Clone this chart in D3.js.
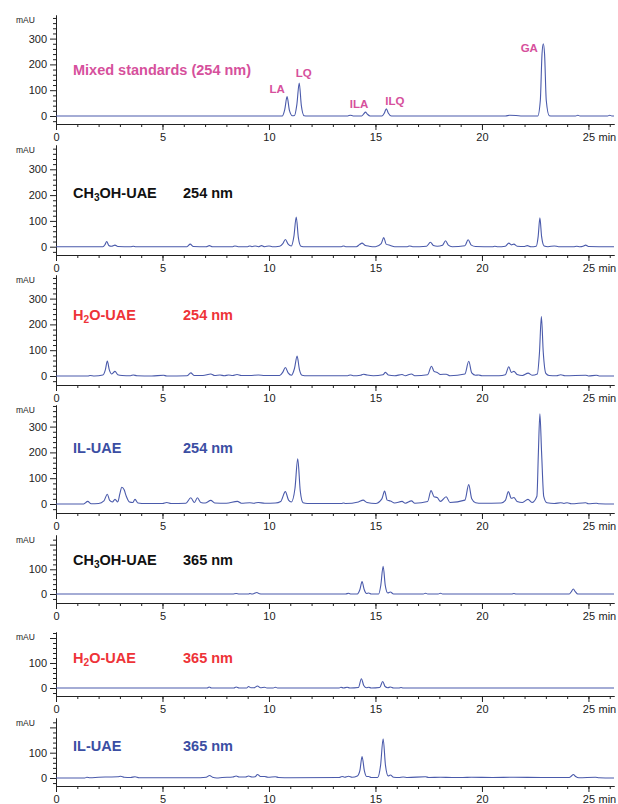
<!DOCTYPE html>
<html>
<head>
<meta charset="utf-8">
<script src="https://cdn.jsdelivr.net/npm/d3@7"></script>
<style>
body{margin:0;background:#fff;}
svg{display:block;font-family:"Liberation Sans",Arial,sans-serif;}
</style>
</head>
<body>
<svg id="chart"></svg>
<script>
// ---- data: [retention time (min), absorbance (mAU)] ----
var timeTicks = [0,5,10,15,20,25];
var timeMinorTicks = [0,1,2,3,4,5,6,7,8,9,10,11,12,13,14,15,16,17,18,19,20,21,22,23,24,25,26];
var yTicks254 = [0,100,200,300];
var yTicks365 = [0,100,200];
var yLabels365 = [0,100];

var panelNames = ["Mixed standards (254 nm)","CH_3OH-UAE","H_2O-UAE","IL-UAE","CH_3OH-UAE","H_2O-UAE","IL-UAE"];
var wavelengths = ["","254 nm","254 nm","254 nm","365 nm","365 nm","365 nm"];

var peakNames = ["LA","LQ","ILA","ILQ","GA"];
var peakTimes = [10.85,11.42,14.53,15.51,22.88];
var peakHeights = [75,128,15,28,280];

var mixStd254 = [[0,0],[10.0,0],[10.62,0],[10.74,25],[10.85,75],[10.96,22],[11.1,1],[11.2,2],[11.31,45],[11.42,128],[11.52,40],[11.65,1],[11.8,0],[13.7,0],[13.82,3],[13.95,0],[14.35,0],[14.45,8],[14.53,15],[14.62,7],[14.75,0],[15.3,0],[15.42,12],[15.51,28],[15.6,12],[15.75,0],[21.1,0],[21.3,3],[21.6,2],[21.9,0],[22.62,0],[22.74,60],[22.82,240],[22.88,280],[22.94,240],[23.02,60],[23.16,1],[23.3,0],[24.4,0],[24.5,3],[24.6,0],[25.9,0],[26.0,3],[26.1,0],[26.2,0]];

var ch3oh254 = [[0,0],[2.2,0],[2.3,8],[2.38,20],[2.48,5],[2.6,2],[2.77,6],[2.9,1],[3.5,0],[3.63,2],[3.75,0],[6.15,0],[6.3,10],[6.45,1],[7.05,0],[7.2,4],[7.35,0],[8.3,0],[8.4,3],[8.55,0],[9.0,0],[9.1,3],[9.2,0],[9.35,3],[9.5,0],[9.65,4],[9.8,0],[10.0,3],[10.15,0],[10.5,2],[10.65,12],[10.77,28],[10.9,10],[11.05,3],[11.17,40],[11.28,115],[11.38,35],[11.5,2],[11.7,0],[13.4,0],[13.5,3],[13.6,0],[14.1,0],[14.25,8],[14.37,14],[14.5,6],[14.7,2],[15.0,0],[15.27,12],[15.39,35],[15.5,10],[15.7,5],[15.9,0],[16.5,0],[16.6,3],[16.75,0],[17.4,2],[17.58,17],[17.72,5],[17.9,2],[18.15,6],[18.29,23],[18.42,6],[18.6,0],[19.2,4],[19.35,27],[19.5,6],[19.7,1],[20.5,0],[20.6,2],[20.75,0],[21.1,2],[21.26,14],[21.38,7],[21.5,10],[21.65,2],[22.0,1],[22.13,4],[22.3,0],[22.55,2],[22.64,40],[22.72,112],[22.8,40],[22.92,3],[23.1,0],[23.4,3],[23.6,0],[24.3,0],[24.45,2],[24.6,0],[24.75,2],[24.87,6],[25.0,1],[26.2,0]];

var h2o254 = [[0,0],[1.5,0],[1.6,2],[1.8,0],[2.2,4],[2.32,25],[2.41,58],[2.5,25],[2.62,8],[2.77,18],[2.9,5],[3.1,2],[3.5,1],[3.63,4],[3.8,1],[4.5,0],[5.05,3],[5.2,0],[6.15,1],[6.33,12],[6.48,2],[6.9,2],[7.27,8],[7.45,2],[7.7,4],[7.9,1],[8.1,4],[8.3,2],[8.5,6],[8.7,2],[9.1,2],[9.5,4],[9.8,2],[10.2,2],[10.5,2],[10.65,15],[10.77,33],[10.9,12],[11.05,3],[11.2,30],[11.32,77],[11.43,25],[11.55,3],[11.8,1],[13.7,1],[13.82,4],[13.95,1],[14.3,3],[14.43,7],[14.6,4],[14.9,1],[15.35,5],[15.47,14],[15.6,4],[15.9,1],[16.25,6],[16.4,1],[16.69,8],[16.85,1],[17.45,5],[17.63,38],[17.75,18],[17.9,14],[18.05,6],[18.32,7],[18.5,1],[19.2,8],[19.38,57],[19.52,12],[19.7,3],[19.84,4],[20.0,1],[20.8,1],[21.1,5],[21.26,36],[21.38,14],[21.5,18],[21.65,6],[21.9,2],[22.17,11],[22.35,3],[22.6,8],[22.7,90],[22.79,230],[22.88,90],[23.0,10],[23.15,2],[23.5,1],[23.7,5],[23.9,1],[24.87,3],[25.0,0],[25.37,3],[25.5,0],[26.2,0]];

var il254 = [[0,0],[1.3,0],[1.49,10],[1.65,1],[2.0,2],[2.25,12],[2.41,38],[2.52,14],[2.65,8],[2.77,18],[2.9,8],[3.0,40],[3.09,65],[3.2,55],[3.3,30],[3.45,8],[3.6,6],[3.71,18],[3.85,4],[4.2,2],[5.0,2],[5.2,6],[5.4,2],[6.1,3],[6.33,24],[6.5,6],[6.64,24],[6.8,6],[7.0,4],[7.27,14],[7.45,4],[8.0,3],[8.52,10],[8.7,3],[9.1,5],[9.3,3],[9.5,6],[9.8,3],[10.3,4],[10.55,10],[10.77,48],[10.92,15],[11.05,8],[11.22,60],[11.35,175],[11.47,50],[11.6,5],[11.8,2],[13.4,2],[13.5,4],[13.6,2],[14.2,8],[14.42,15],[14.6,6],[15.0,2],[15.3,20],[15.43,50],[15.55,15],[15.7,12],[15.9,4],[16.25,10],[16.4,3],[16.69,12],[16.85,3],[17.45,10],[17.61,52],[17.75,28],[17.9,25],[18.05,10],[18.32,28],[18.5,6],[19.2,15],[19.38,75],[19.52,20],[19.7,5],[20.0,3],[20.9,4],[21.1,14],[21.24,48],[21.38,22],[21.5,25],[21.65,10],[21.9,6],[22.16,18],[22.35,6],[22.58,30],[22.65,200],[22.72,350],[22.8,200],[22.9,30],[23.05,5],[23.4,2],[23.7,5],[23.85,2],[24.0,5],[24.2,1],[24.87,5],[25.0,1],[25.37,3],[25.5,1],[26.2,0]];

var ch3oh365 = [[0,0],[8.3,0],[8.46,2],[8.6,0],[9.05,0],[9.1,2],[9.2,0],[9.3,2],[9.43,6],[9.55,1],[9.7,0],[13.6,0],[13.74,3],[13.85,0],[14.15,0],[14.27,18],[14.37,50],[14.47,18],[14.58,2],[14.68,4],[14.8,0],[15.15,0],[15.25,35],[15.36,112],[15.46,35],[15.58,4],[15.7,8],[15.85,0],[17.25,0],[17.35,3],[17.45,0],[17.95,0],[18.05,3],[18.15,0],[21.4,0],[21.5,2],[21.6,0],[24.1,0],[24.2,10],[24.29,20],[24.38,10],[24.5,0],[26.2,0]];

var h2o365 = [[0,0],[7.1,0],[7.19,4],[7.3,0],[8.35,0],[8.46,4],[8.6,0],[8.95,0],[9.04,6],[9.15,1],[9.3,1],[9.46,8],[9.6,1],[9.8,3],[9.9,0],[10.2,0],[10.3,3],[10.4,0],[13.3,0],[13.38,3],[13.5,0],[13.67,3],[13.8,0],[14.2,2],[14.34,37],[14.45,10],[14.58,1],[14.68,3],[14.8,0],[15.2,2],[15.34,26],[15.45,6],[15.58,1],[15.7,4],[15.85,0],[16.1,0],[16.2,2],[16.3,0],[26.2,0]];

var il365 = [[0,0],[1.35,0],[1.45,3],[1.6,1],[2.0,3],[2.5,4],[2.9,5],[3.04,7],[3.2,3],[3.5,2],[3.71,5],[3.9,1],[5.0,1],[6.5,1],[7.05,3],[7.21,10],[7.35,3],[7.55,0],[7.8,2],[8.3,4],[8.46,8],[8.6,4],[8.9,4],[9.04,8],[9.2,4],[9.35,5],[9.46,14],[9.6,6],[9.8,6],[9.95,3],[10.3,5],[10.45,2],[11.0,1],[13.3,2],[13.43,6],[13.55,3],[13.74,7],[13.9,3],[14.15,8],[14.27,30],[14.37,85],[14.48,28],[14.58,6],[14.68,6],[14.8,2],[15.1,2],[15.24,50],[15.36,155],[15.47,50],[15.6,8],[15.7,12],[15.85,3],[16.1,2],[16.3,4],[16.5,2],[17.35,5],[17.5,2],[18.05,3],[18.6,2],[19.1,2],[19.5,3],[20.5,2],[21.5,3],[22.8,2],[24.1,2],[24.2,8],[24.29,14],[24.4,6],[24.55,1],[25.33,3],[25.5,1],[26.2,0]];

var traces = [mixStd254, ch3oh254, h2o254, il254, ch3oh365, h2o365, il365];

// ---- layout / style ----
var screen = {width:618, height:804};
var textColors = ["#d6509c","#111111","#ee3338","#3b4ea3","#111111","#ee3338","#3b4ea3"];
var lineColor = "#4a5aab";
// top of y axis, pixel of 0 mAU, x-axis line, pixels per 100 mAU, label baseline
var layout = [
  {top:15,  y0:116,   bottom:124, k:25.8, textY:75},
  {top:145, y0:246.7, bottom:255, k:25.8, textY:198},
  {top:275, y0:376,   bottom:385, k:25.8, textY:320},
  {top:405, y0:504,   bottom:513, k:25.8, textY:452.5},
  {top:535, y0:594,   bottom:603, k:24.7, textY:565},
  {top:632, y0:688,   bottom:696, k:25,   textY:662.5},
  {top:718, y0:778,   bottom:786, k:25.3, textY:751}
];
var peakDx = [-10,4.5,-6.5,8.5,-14];
var peakDy = [-4,-6,-4,-4,8];

var svg = d3.select("#chart")
            .attr("width",screen.width)
            .attr("height",screen.height);

var xScale = d3.scaleLinear()
               .domain([0,26.2])
               .range([56,614]);

var addLabel = function(g, str, x, y, color, size)
{
  var t = g.append("text")
           .attr("x",x).attr("y",y)
           .attr("fill",color)
           .attr("font-weight","bold")
           .attr("font-size",size);
  var parts = str.split("_");
  t.append("tspan").text(parts[0]);
  if(parts.length>1)
  {
    t.append("tspan").attr("font-size",size*0.7).attr("dy",3).text(parts[1].charAt(0));
    t.append("tspan").attr("dy",-3).text(parts[1].slice(1));
  }
};

layout.forEach(function(p,i)
{
  var is365 = i>=4;
  var yScale = d3.scaleLinear()
                 .domain([(p.y0-p.bottom)/p.k*100,(p.y0-p.top)/p.k*100])
                 .range([p.bottom,p.top]);
  var ydom = yScale.domain();
  var g = svg.append("g").classed("panel",true);

  // y axis: minor ticks every 20 mAU, majors every 100
  var minor = d3.range(-20,ydom[1],20).filter(function(v){return v>=ydom[0] && v%100!=0;});
  g.append("g")
   .attr("transform","translate(56,0)")
   .call(d3.axisLeft(yScale).tickValues(minor).tickSize(3).tickSizeOuter(0).tickFormat(""));
  var majors = is365 ? yTicks365 : yTicks254;
  var yAx = g.append("g")
   .attr("transform","translate(56,0)")
   .call(d3.axisLeft(yScale).tickValues(majors).tickSize(6).tickSizeOuter(0)
           .tickFormat(function(d){ return (!is365 || yLabels365.indexOf(d)>=0) ? d : ""; }));
  yAx.selectAll("text").attr("font-size",11).attr("fill","#222")
     .attr("font-family","'Liberation Sans',Arial,sans-serif");

  g.append("text")
   .attr("x",16).attr("y",p.top+8)
   .attr("font-size",8.5).attr("fill","#222")
   .text("mAU");

  // x axis
  g.append("g")
   .attr("transform","translate(0,"+p.bottom+")")
   .call(d3.axisBottom(xScale).tickValues(timeMinorTicks).tickSize(3).tickSizeOuter(0).tickFormat(""));
  var xAx = g.append("g")
   .attr("transform","translate(0,"+p.bottom+")")
   .call(d3.axisBottom(xScale).tickValues(timeTicks).tickSize(6).tickSizeOuter(0));
  xAx.selectAll("text").attr("font-size",11).attr("fill","#222")
     .attr("font-family","'Liberation Sans',Arial,sans-serif");
  g.append("text")
   .attr("x",598.5).attr("y",p.bottom+16.8)
   .attr("font-size",11).attr("fill","#222")
   .text("min");

  g.selectAll(".domain, .tick line").attr("stroke","#222");

  // trace
  var line = d3.line()
               .x(function(d){return xScale(d[0]);})
               .y(function(d){return yScale(d[1]);})
               .curve(d3.curveMonotoneX);
  g.append("path")
   .datum(traces[i])
   .attr("d",line)
   .attr("fill","none")
   .attr("stroke",lineColor)
   .attr("stroke-width",1.1);

  // labels
  addLabel(g, panelNames[i], 73, p.textY, textColors[i], 14.5);
  if(wavelengths[i]!="")
    addLabel(g, wavelengths[i], 183, p.textY, textColors[i], 14.5);

  if(i==0)
  {
    g.selectAll("text.peak")
     .data(peakNames)
     .enter()
     .append("text")
     .classed("peak",true)
     .attr("x",function(d,j){return xScale(peakTimes[j])+peakDx[j];})
     .attr("y",function(d,j){return yScale(peakHeights[j])+peakDy[j];})
     .attr("text-anchor","middle")
     .attr("font-size",11.5)
     .attr("font-weight","bold")
     .attr("fill",textColors[0])
     .text(function(d){return d;});
  }
});
</script>
</body>
</html>
